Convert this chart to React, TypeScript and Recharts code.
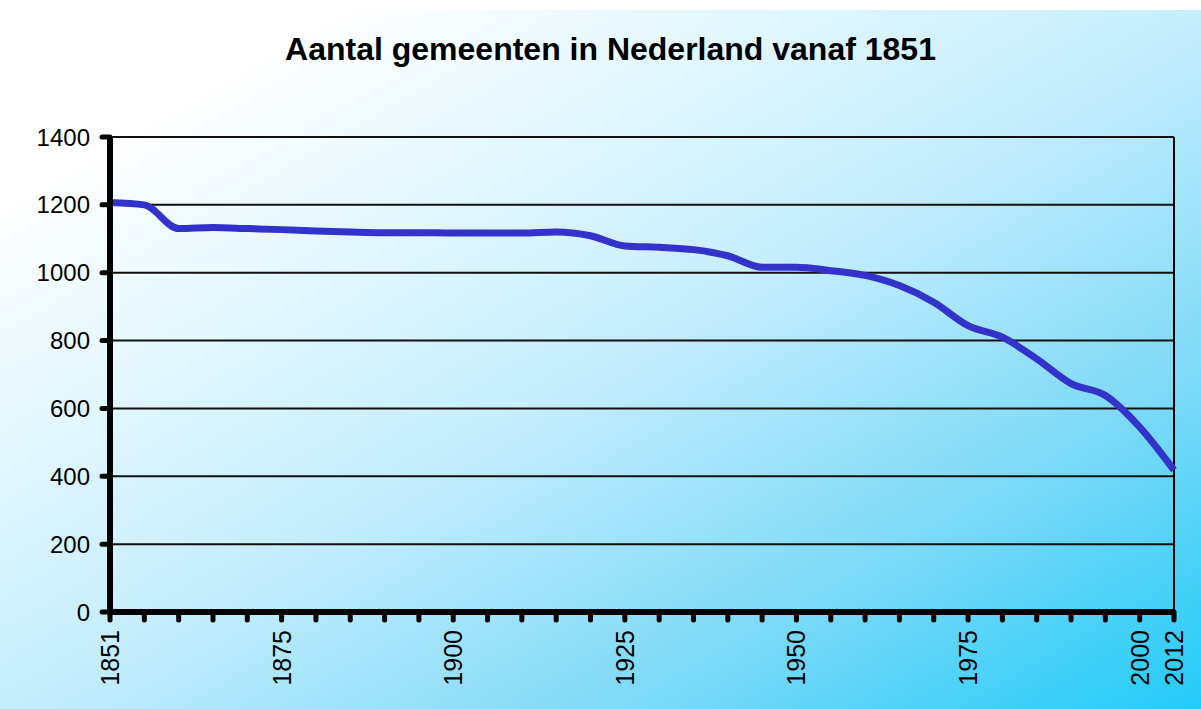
import { LineChart, Line, XAxis, YAxis, CartesianGrid, ReferenceLine } from "recharts"

const years = [
  1851, 1855, 1860, 1865, 1870, 1875, 1880, 1885, 1890, 1895, 1900, 1905, 1910, 1915, 1920, 1925,
  1930, 1935, 1940, 1945, 1950, 1955, 1960, 1965, 1970, 1975, 1980, 1985, 1990, 1995, 2000, 2012,
]
const counts = [
  1207, 1200, 1130, 1133, 1130, 1127, 1123, 1120, 1118, 1118, 1117, 1117, 1117, 1120, 1109, 1079,
  1075, 1068, 1050, 1016, 1016, 1006, 992, 962, 913, 844, 810, 746, 673, 638, 545, 418,
]
const labelYears = [1851, 1875, 1900, 1925, 1950, 1975, 2000, 2012]
const yTicks = [0, 200, 400, 600, 800, 1000, 1200, 1400]

const data = years.map((year, i) => ({ year, count: counts[i] }))

const font = "'Liberation Sans', Arial, sans-serif"

function XTick(props: any) {
  const { x, y, payload } = props
  if (!labelYears.includes(payload.value)) return <g />
  return (
    <g transform={`translate(${x},${y})`}>
      <text
        transform="rotate(-90)"
        textAnchor="end"
        dy="0.36em"
        fontSize={25}
        fontFamily={font}
        fill="#000"
      >
        {payload.value}
      </text>
    </g>
  )
}

export default function App() {
  return (
    <div style={{ position: "absolute", left: 0, top: 0, width: 1201, height: 709, background: "#fff" }}>
      <div
        style={{
          position: "absolute",
          left: 0,
          top: 10,
          width: 1201,
          height: 699,
          background:
            "linear-gradient(to bottom right, #ffffff 0%, #ffffff 14%, #c6eefc 50%, #80daf8 75%, #22cbf7 100%)",
        }}
      />
      <div
        style={{
          position: "absolute",
          left: 10,
          top: 31,
          width: 1201,
          textAlign: "center",
          fontFamily: font,
          fontWeight: "bold",
          fontSize: 32,
          color: "#000",
        }}
      >
        Aantal gemeenten in Nederland vanaf 1851
      </div>
      <div style={{ position: "absolute", left: 0, top: 0 }}>
        <LineChart width={1201} height={709} data={data} margin={{ top: 137, right: 27, bottom: 37, left: 0 }}>
          <CartesianGrid vertical={false} stroke="#111" strokeWidth={2} strokeOpacity={1} />
          <XAxis
            dataKey="year"
            interval={0}
            height={60}
            tick={<XTick />}
            tickSize={8}
            tickMargin={10}
            axisLine={{ stroke: "#000", strokeWidth: 6 }}
            tickLine={{ stroke: "#000", strokeWidth: 5, strokeLinecap: "round" }}
          />
          <YAxis
            width={110}
            domain={[0, 1400]}
            ticks={yTicks}
            interval={0}
            tickSize={8}
            tickMargin={12}
            tick={{ fill: "#000", fontSize: 24, fontFamily: font }}
            axisLine={{ stroke: "#000", strokeWidth: 6 }}
            tickLine={{ stroke: "#000", strokeWidth: 5, strokeLinecap: "round" }}
          />
          <ReferenceLine x={2012} stroke="#000" strokeWidth={2} />
          <Line
            type="monotone"
            dataKey="count"
            stroke="#3333CC"
            strokeWidth={7}
            dot={false}
            isAnimationActive={false}
          />
        </LineChart>
      </div>
    </div>
  )
}
